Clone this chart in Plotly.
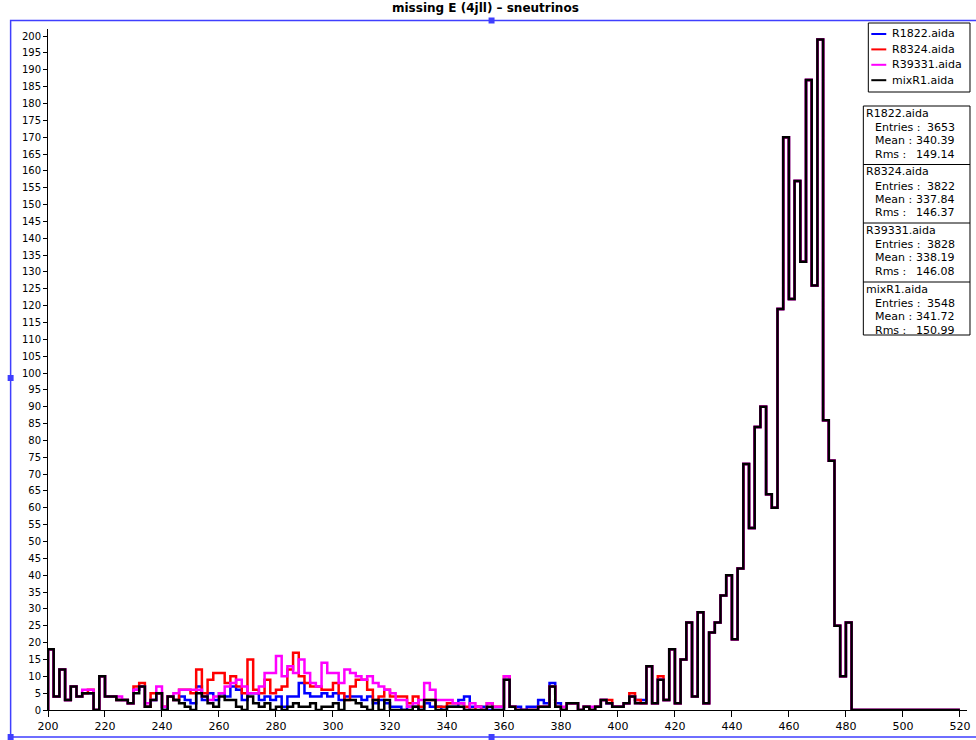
import numpy as np
import plotly.graph_objects as go

# Histogram binning: 160 bins of width 2 from 200 to 520
bin_lo, bin_hi, bin_w = 200, 520, 2

# Bin contents for each file (bins 200..358 then 360..518)
r1822_counts = [
    18, 4, 12, 3, 7, 4, 5, 5, 0, 10, 4, 4, 3, 3, 2, 6, 7, 1, 3, 5,
    0, 4, 3, 4, 3, 2, 7, 3, 5, 3, 5, 4, 7, 6, 3, 5, 5, 3, 4, 3,
    4, 1, 4, 4, 8, 5, 4, 4, 5, 4, 5, 3, 4, 4, 4, 3, 4, 2, 3, 2,
    1, 1, 0, 1, 1, 0, 2, 1, 1, 0, 1, 1, 3, 4, 1, 1, 1, 0, 0, 0,
    9, 1, 1, 0, 1, 1, 3, 2, 8, 2, 0, 2, 2, 0, 1, 0, 1, 3, 2, 1,
    1, 2, 4, 3, 3, 13, 2, 9, 3, 18, 2, 15, 26, 4, 29, 2, 23, 26, 34, 40,
    21, 42, 73, 54, 84, 90, 64, 60, 119, 170, 122, 157, 133, 187, 126, 199, 86, 74, 25, 10,
    26, 0, 0, 0, 0, 0, 0, 0, 0, 0, 0, 0, 0, 0, 0, 0, 0, 0, 0, 0,
]
r8324_counts = [
    18, 4, 12, 3, 7, 4, 5, 6, 0, 10, 4, 4, 3, 3, 2, 7, 8, 1, 5, 5,
    1, 4, 3, 6, 6, 5, 12, 5, 9, 11, 11, 8, 10, 7, 5, 15, 6, 5, 9, 5,
    6, 7, 12, 17, 10, 8, 7, 7, 6, 6, 8, 5, 3, 7, 9, 9, 6, 3, 4, 6,
    4, 4, 4, 2, 4, 1, 3, 3, 1, 1, 2, 2, 2, 1, 0, 1, 0, 2, 1, 1,
    10, 1, 0, 0, 0, 0, 1, 1, 7, 1, 0, 2, 2, 0, 1, 0, 1, 3, 3, 1,
    1, 2, 5, 3, 2, 13, 2, 10, 3, 18, 2, 15, 26, 4, 29, 2, 23, 26, 34, 40,
    21, 42, 73, 54, 84, 90, 64, 60, 119, 170, 122, 157, 133, 187, 126, 199, 86, 74, 25, 10,
    26, 0, 0, 0, 0, 0, 0, 0, 0, 0, 0, 0, 0, 0, 0, 0, 0, 0, 0, 0,
]
r39331_counts = [
    18, 4, 12, 3, 7, 4, 6, 6, 0, 10, 4, 4, 4, 3, 2, 6, 7, 2, 3, 7,
    1, 4, 5, 6, 6, 6, 6, 4, 3, 4, 5, 7, 8, 9, 7, 5, 5, 7, 11, 11,
    16, 10, 13, 11, 15, 11, 8, 7, 14, 11, 11, 8, 12, 11, 10, 9, 10, 8, 7, 6,
    5, 3, 3, 1, 2, 3, 8, 6, 3, 3, 3, 2, 2, 0, 2, 1, 0, 2, 1, 1,
    10, 1, 0, 0, 0, 0, 1, 1, 7, 1, 1, 2, 2, 0, 1, 1, 1, 3, 2, 1,
    1, 2, 4, 2, 2, 13, 2, 9, 3, 18, 2, 15, 26, 4, 29, 2, 23, 26, 34, 40,
    21, 42, 73, 54, 84, 90, 64, 60, 119, 170, 122, 157, 133, 187, 126, 199, 86, 74, 25, 10,
    26, 0, 0, 0, 0, 0, 0, 0, 0, 0, 0, 0, 0, 0, 0, 0, 0, 0, 0, 0,
]
mixr1_counts = [
    18, 4, 12, 3, 7, 4, 5, 5, 0, 10, 4, 4, 3, 3, 2, 5, 7, 1, 3, 5,
    0, 4, 3, 2, 1, 0, 5, 4, 2, 1, 4, 3, 3, 1, 0, 4, 2, 1, 2, 0,
    1, 0, 1, 2, 1, 1, 2, 0, 1, 1, 2, 0, 3, 3, 2, 1, 0, 3, 0, 3,
    0, 0, 0, 0, 1, 0, 3, 3, 0, 0, 1, 1, 1, 0, 0, 0, 0, 1, 0, 0,
    9, 1, 0, 0, 0, 0, 1, 1, 7, 1, 0, 2, 2, 0, 1, 0, 1, 3, 2, 1,
    1, 2, 4, 2, 2, 13, 2, 9, 3, 18, 2, 15, 26, 4, 29, 2, 23, 26, 34, 40,
    21, 42, 73, 54, 84, 90, 64, 60, 119, 170, 122, 157, 133, 187, 126, 199, 86, 74, 25, 10,
    26, 0, 0, 0, 0, 0, 0, 0, 0, 0, 0, 0, 0, 0, 0, 0, 0, 0, 0, 0,
]

series_names = ["R1822.aida", "R8324.aida", "R39331.aida", "mixR1.aida"]
series_colors = ["#0000ff", "#ff0000", "#ff00ff", "#000000"]
series_counts = [r1822_counts, r8324_counts, r39331_counts, mixr1_counts]

stat_entries = ["3653", "3822", "3828", "3548"]
stat_means = ["340.39", "337.84", "338.19", "341.72"]
stat_rms = ["149.14", "146.37", "146.08", "150.99"]

title_text = "missing E (4jll) \u2013 sneutrinos"
x_ticks = list(range(200, 521, 20))
y_ticks = list(range(0, 201, 5))

FONT = "DejaVu Sans"
W, H = 976, 740
ML, MR, MT, MB = 48, 6, 29, 30
PW, PH = W - ML - MR, H - MT - MB


def px(x):
    """pixel column -> paper x"""
    return (x - ML) / PW


def py(y):
    """pixel row -> paper y"""
    return (H - MB - y) / PH


edges = np.arange(bin_lo, bin_hi + bin_w, bin_w)

fig = go.Figure()
for name, color, counts in zip(series_names, series_colors, series_counts):
    c = np.asarray(counts, dtype=float)
    # step outline: rise from zero at the first edge, flat over each bin
    xs = np.concatenate([[edges[0]], edges[:-1], [edges[-1]]])
    ys = np.concatenate([[0.0], c, [c[-1]]])
    fig.add_trace(go.Scatter(
        x=xs, y=ys, mode="lines", name=name,
        line=dict(color=color, width=2.5, shape="hv"),
        showlegend=False, hoverinfo="skip",
    ))

shapes = []
annotations = []

# legend box
lg_l, lg_r, lg_t, lg_b = 871, 973, 23, 92
shapes.append(dict(type="rect", xref="paper", yref="paper",
                   x0=px(lg_l), x1=px(lg_r), y0=py(lg_b), y1=py(lg_t),
                   line=dict(color="#000000", width=1), fillcolor="#ffffff", layer="above"))
for i, (name, color) in enumerate(zip(series_names, series_colors)):
    yy = 34 + i * 15.4
    shapes.append(dict(type="line", xref="paper", yref="paper",
                       x0=px(874), x1=px(889), y0=py(yy), y1=py(yy),
                       line=dict(color=color, width=2), layer="above"))
    annotations.append(dict(xref="paper", yref="paper", x=px(893), y=py(yy),
                            text=name, showarrow=False, xanchor="left", yanchor="middle",
                            font=dict(family=FONT, size=11, color="#000000")))

# statistics boxes
st_l, st_r = 866, 973
box_tops = [106, 164.5, 223, 282]
st_b = 335
shapes.append(dict(type="rect", xref="paper", yref="paper",
                   x0=px(st_l), x1=px(st_r), y0=py(st_b), y1=py(box_tops[0]),
                   line=dict(color="#000000", width=1), fillcolor="#ffffff", layer="above"))
for t in box_tops[1:]:
    shapes.append(dict(type="line", xref="paper", yref="paper",
                       x0=px(st_l), x1=px(st_r), y0=py(t), y1=py(t),
                       line=dict(color="#000000", width=1), layer="above"))
for i, name in enumerate(series_names):
    t = box_tops[i]
    rows = [("Entries :", stat_entries[i]), ("Mean :", stat_means[i]), ("Rms :", stat_rms[i])]
    annotations.append(dict(xref="paper", yref="paper", x=px(867), y=py(t + 7.5),
                            text=name, showarrow=False, xanchor="left", yanchor="middle",
                            font=dict(family=FONT, size=11, color="#000000")))
    for j, (lab, val) in enumerate(rows):
        yy = t + 21.5 + j * 13.3
        annotations.append(dict(xref="paper", yref="paper", x=px(876), y=py(yy),
                                text=lab, showarrow=False, xanchor="left", yanchor="middle",
                                font=dict(family=FONT, size=11, color="#000000")))
        annotations.append(dict(xref="paper", yref="paper", x=px(960), y=py(yy),
                                text=val, showarrow=False, xanchor="right", yanchor="middle",
                                font=dict(family=FONT, size=11, color="#000000")))

# selection frame with handles
sel = "#3f3fff"
shapes.append(dict(type="rect", xref="paper", yref="paper",
                   x0=px(10.5), x1=px(1000), y0=py(737), y1=py(20.5),
                   line=dict(color=sel, width=1.5), layer="above"))
for hx, hy in [(10.5, 378), (493, 20.5), (493, 737), (10.5, 737)]:
    shapes.append(dict(type="rect", xref="paper", yref="paper",
                       x0=px(hx - 3), x1=px(hx + 3), y0=py(hy + 3), y1=py(hy - 3),
                       line=dict(color=sel, width=0), fillcolor=sel, layer="above"))

annotations.append(dict(xref="paper", yref="paper", x=px(487), y=py(8),
                        text="<b>" + title_text + "</b>", showarrow=False,
                        xanchor="center", yanchor="middle",
                        font=dict(family=FONT, size=12, color="#000000")))

fig.update_layout(
    width=W, height=H,
    margin=dict(l=ML, r=MR, t=MT, b=MB),
    paper_bgcolor="#ffffff", plot_bgcolor="#ffffff",
    shapes=shapes, annotations=annotations,
    showlegend=False,
)
fig.update_xaxes(
    range=[bin_lo, 522.5], tickvals=x_ticks, ticktext=[str(v) for v in x_ticks],
    showgrid=False, zeroline=False, showline=True, linecolor="#000000", linewidth=1,
    ticks="outside", ticklen=6, tickcolor="#000000",
    tickfont=dict(family=FONT, size=11, color="#000000"),
)
fig.update_yaxes(
    range=[0, 202.1], tickvals=y_ticks, ticktext=[str(v) for v in y_ticks],
    showgrid=False, zeroline=False, showline=True, linecolor="#000000", linewidth=1,
    ticks="outside", ticklen=4, tickcolor="#000000",
    tickfont=dict(family=FONT, size=10, color="#000000"),
)

fig.write_html("out.html")
